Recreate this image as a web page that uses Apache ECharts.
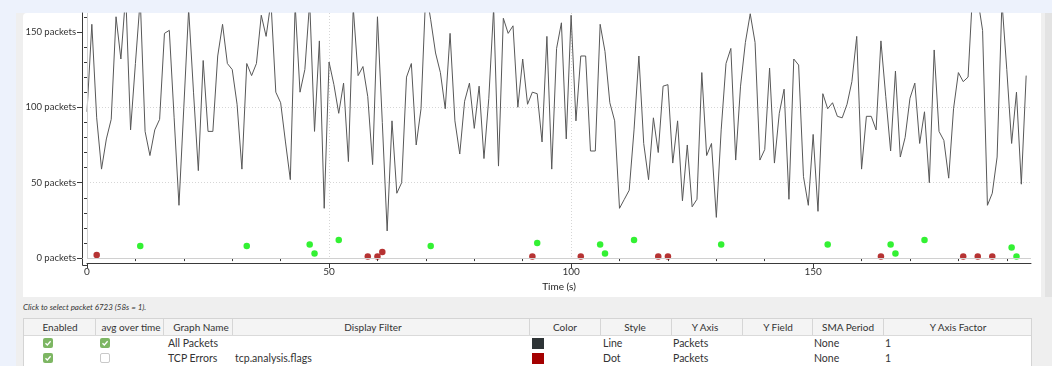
<!DOCTYPE html>
<html><head><meta charset="utf-8">
<script src="https://cdn.jsdelivr.net/npm/echarts@6/dist/echarts.min.js"></script>
<style>
html,body{margin:0;padding:0;width:1052px;height:366px;overflow:hidden;background:#edf2fc;font-family:Lato,"Noto Sans",sans-serif;}
#win{position:absolute;left:16px;top:13px;width:1036px;height:353px;background:#efefef;}
#panel{position:absolute;left:23px;top:13px;width:1018px;height:284px;background:#fff;border-top-left-radius:4px;}
#rbar{position:absolute;left:1045px;top:13px;width:7px;height:284px;background:#e3e3e3;}
#chart{position:absolute;left:0;top:0;width:1052px;height:297px;}
#status{position:absolute;left:23px;top:302px;font-size:8px;font-style:italic;color:#333;white-space:nowrap;}
#table{position:absolute;left:23px;top:318px;width:1009px;height:48px;background:#fff;border:1px solid #d4d4d4;border-bottom:none;box-sizing:border-box;}
#thead{position:absolute;left:0;top:0;width:100%;height:17px;background:#f4f4f4;border-bottom:1px solid #dadada;box-sizing:border-box;}
.sep{position:absolute;top:0;width:1px;height:16px;background:#d6d6d6;}
.ht{position:absolute;top:1px;font-size:10px;color:#333;white-space:nowrap;transform:translateX(-50%);line-height:15px;}
.cell{position:absolute;font-size:10.5px;color:#333;white-space:nowrap;line-height:14px;}
.cb{position:absolute;width:10px;height:10px;border-radius:2px;box-sizing:border-box;}
.cb.on{background:#7db663;}
.cb.off{background:#fff;border:1px solid #c9c9c9;}
.sw{position:absolute;width:12px;height:11px;}
</style></head>
<body>
<div id="win"></div>
<div id="panel"></div>
<div id="rbar"></div>
<div id="chart"></div>
<div id="status"></div>
<div id="table"><div id="thead"></div></div>
<script>
// ---------- data ----------
const allPackets = [
 97,155,93,59,79,92,160,132,175,85,
 129,172,84,68,85,92,149,151,93,35,
 100,165,110,58,131,84,84,134,155,129,
 125,102,59,129,121,129,161,147,170,110,
 103,77,52,168,110,125,170,84,144,33,
 130,115,96,116,64,166,121,127,107,62,
 160,90,18,91,43,50,120,129,75,99,
 178,158,136,123,99,149,91,69,104,116,
 86,114,66,106,166,61,159,149,154,100,
 132,102,110,109,77,147,59,139,156,79,
 161,91,134,134,71,71,155,137,103,91,
 33,39,45,85,134,76,52,93,70,114,
 115,63,91,38,75,34,39,123,68,76,
 27,85,129,139,65,114,143,162,143,65,
 72,126,63,96,112,39,132,128,54,35,
 82,31,109,99,103,94,93,102,117,147,
 59,94,94,85,144,107,71,124,67,80,
 106,116,76,97,50,138,84,78,53,99,
 123,117,120,180,172,151,35,43,67,170,
 125,76,110,49,121
];
const tcpErrorTimes  = [2,58,60,61,92,102,118,120,164,181,184,187];
const tcpErrorValues = [2,1,1,4,1,1,1,1,1,1,1,1];
const otherTimes  = [11,33,46,47,52,71,93,106,107,113,131,153,166,167,173,191,192];
const otherValues = [8,8,9,3,12,8,10,9,3,12,9,9,9,3,12,7,1];
const xTickLabels = [0,50,100,150];
const xMinorTicks = [10,20,30,40,60,70,80,90,110,120,130,140,160,170,180,190];
const yTickLabels = [0,50,100,150];
const yMinorTicks = [10,20,30,40,60,70,80,90,110,120,130,140,160];

const headers = ['Enabled','avg over time','Graph Name','Display Filter','Color','Style','Y Axis','Y Field','SMA Period','Y Axis Factor'];
const graphEnabled = [true,true];
const graphAvg = [true,false];
const graphNames = ['All Packets','TCP Errors'];
const graphFilters = ['','tcp.analysis.flags'];
const graphColors = ['#2e3436','#a40000'];
const graphStyles = ['Line','Dot'];
const graphYAxis = ['Packets','Packets'];
const graphSMA = ['None','None'];
const graphFactor = ['1','1'];

// ---------- table ----------
const headCenters = [59,130,200,372,564,634,704,777,847,957];
const seps = [94,162,231,528,599,670,741,811,882];
const head = document.getElementById('thead');
seps.forEach(x=>{const d=document.createElement('div');d.className='sep';d.style.left=(x-23)+'px';head.appendChild(d);});
headers.forEach((h,i)=>{const d=document.createElement('div');d.className='ht';d.textContent=h;d.style.left=(headCenters[i]-23)+'px';head.appendChild(d);});
const tbl = document.getElementById('table');
const rowCenters = [343,358];
function cell(txt,x,yc){const d=document.createElement('div');d.className='cell';d.textContent=txt;d.style.left=(x-23)+'px';d.style.top=(yc-318-8)+'px';tbl.appendChild(d);}
function box(on,x,yc){const d=document.createElement('div');d.className='cb '+(on?'on':'off');d.style.left=(x-23)+'px';d.style.top=(yc-318-6)+'px';
  if(on){d.innerHTML='<svg width="10" height="10" style="position:absolute;left:0;top:0"><polyline points="2.5,5.2 4.3,7 7.6,3.2" fill="none" stroke="#fff" stroke-width="1.3"/></svg>';}
  tbl.appendChild(d);}
graphNames.forEach((n,i)=>{
  const yc=rowCenters[i];
  box(graphEnabled[i],42,yc);
  box(graphAvg[i],99,yc);
  cell(n,167,yc);
  cell(graphFilters[i],234,yc);
  const s=document.createElement('div');s.className='sw';s.style.background=graphColors[i];s.style.left=(531-23)+'px';s.style.top=(yc-318-6)+'px';tbl.appendChild(s);
  cell(graphStyles[i],602,yc);
  cell(graphYAxis[i],672,yc);
  cell(graphSMA[i],813,yc);
  cell(graphFactor[i],884,yc);
});
document.getElementById('status').textContent='Click to select packet 6723 (58s = 1).';

// ---------- chart ----------
const chart = echarts.init(document.getElementById('chart'), null, {renderer:'canvas'});
const FONT = 'Lato';
const axisColor = '#3a3a3a';
const gridDot = {color:'#d6d6d6', width:1, type:[1,2]};
chart.setOption({
  animation:false,
  grid:{left:87, right:21, top:13, bottom:37},
  xAxis:[{
    type:'value', min:0, max:195, interval:50, offset:5,
    name:'Time (s)', nameLocation:'middle', nameGap:17,
    nameTextStyle:{fontSize:10, color:'#222', fontFamily:FONT},
    axisLine:{show:true, onZero:false, lineStyle:{color:axisColor, width:1}},
    axisTick:{show:true, length:5, customValues:xTickLabels, lineStyle:{color:axisColor}},
    axisLabel:{fontSize:10, color:'#333', margin:4, fontFamily:FONT, customValues:xTickLabels},
    splitLine:{show:true, showMinLine:false, showMaxLine:false, lineStyle:gridDot}
  },{
    type:'value', min:0, max:195, offset:5, position:'bottom',
    axisLine:{show:false}, axisLabel:{show:false}, splitLine:{show:false},
    axisTick:{show:true, length:3, customValues:xMinorTicks, lineStyle:{color:axisColor}}
  }],
  yAxis:[{
    type:'value', min:0, max:162.5, interval:50, offset:5,
    axisLine:{show:true, onZero:false, lineStyle:{color:axisColor, width:1}},
    axisTick:{show:true, length:5, customValues:yTickLabels, lineStyle:{color:axisColor}},
    axisLabel:{fontSize:9.5, color:'#333', margin:6, fontFamily:FONT, customValues:yTickLabels, formatter:'{value} packets'},
    splitLine:{show:true, showMinLine:false, showMaxLine:false, lineStyle:gridDot}
  },{
    type:'value', min:0, max:162.5, offset:5, position:'left',
    axisLine:{show:false}, axisLabel:{show:false}, splitLine:{show:false},
    axisTick:{show:true, length:3, customValues:yMinorTicks, lineStyle:{color:axisColor}}
  }],
  graphic:[{
    type:'polyline', silent:true, z:10,
    shape:{points:[[82.5,259],[82.5,265.5],[88,265.5]]},
    style:{stroke:axisColor, lineWidth:1, fill:null}
  }],
  series:[{
    name:'All Packets', type:'line', xAxisIndex:0, yAxisIndex:0,
    data: allPackets.map((v,i)=>[i,v]),
    showSymbol:false, symbol:'none',
    lineStyle:{color:'#585858', width:1},
    clip:true, z:3,
    markLine:{
      silent:true, symbol:'none', label:{show:false},
      lineStyle:{color:'#d0d0d0', type:'solid', width:1},
      data:[{yAxis:0},{xAxis:0}]
    }
  },{
    name:'TCP Errors', type:'scatter', xAxisIndex:0, yAxisIndex:0,
    data: tcpErrorTimes.map((t,i)=>[t,tcpErrorValues[i]]),
    symbol:'circle', symbolSize:6.5, itemStyle:{color:'#a40000'}, z:4
  },{
    name:'Other', type:'scatter', xAxisIndex:0, yAxisIndex:0,
    data: otherTimes.map((t,i)=>[t,otherValues[i]]),
    symbol:'circle', symbolSize:6.5, itemStyle:{color:'#00ee00'}, z:4
  }]
});
</script>
</body></html>
